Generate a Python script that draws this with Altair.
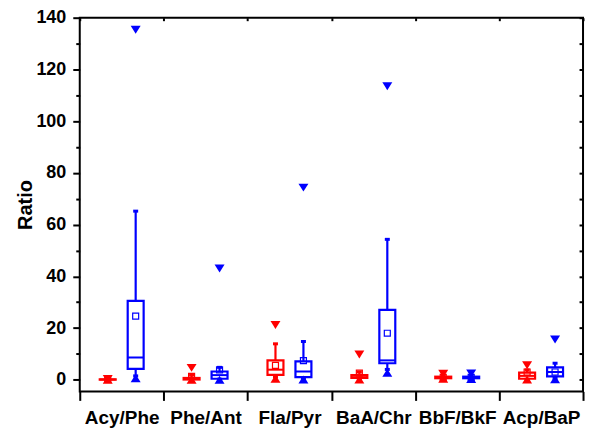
import altair as alt
import pandas as pd

categories = ["Acy/Phe", "Phe/Ant", "Fla/Pyr", "BaA/Chr", "BbF/BkF", "Acp/BaP"]
series_names = ["Red", "Blue"]
series_colors = ["#FF0000", "#0000FF"]

# Red series (one value per category)
red_max = [0.3, 4.6, 21.2, 9.8, 2.3, 5.6]
red_whi = [0.25, 1.8, 13.9, 3.0, 1.6, 3.8]
red_q3 = [0.2, 0.7, 7.5, 1.8, 1.2, 2.8]
red_mean = [0.15, 1.3, 5.6, 2.6, 0.9, 3.0]
red_median = [0.1, 0.3, 3.9, 1.0, 0.8, 1.5]
red_q1 = [0.05, 0.1, 1.9, 0.7, 0.6, 0.4]
red_wlo = [0.03, 0.05, 1.0, 0.4, 0.5, 0.2]
red_min = [0.0, 0.0, 0.4, 0.1, 0.4, 0.1]

# Blue series
blue_max = [135.3, 43.0, 74.3, 113.5, 2.4, 15.6]
blue_whi = [65.2, 4.8, 14.8, 54.3, 1.6, 6.4]
blue_q3 = [30.5, 3.2, 7.1, 27.0, 1.2, 4.8]
blue_mean = [24.6, 3.8, 7.4, 18.0, 0.9, 3.0]
blue_median = [8.6, 1.8, 3.2, 7.5, 0.8, 3.0]
blue_q1 = [4.2, 0.4, 1.0, 6.4, 0.6, 1.3]
blue_wlo = [1.5, 0.2, 0.5, 4.0, 0.5, 0.6]
blue_min = [0.6, 0.0, 0.1, 2.7, 0.3, 0.2]

y_ticks = list(range(0, 141, 10))

rows = []
for s, mx, whi, q3, mean, med, q1, wlo, mn in [
    ("Red", red_max, red_whi, red_q3, red_mean, red_median, red_q1, red_wlo, red_min),
    ("Blue", blue_max, blue_whi, blue_q3, blue_mean, blue_median, blue_q1, blue_wlo, blue_min),
]:
    for i, c in enumerate(categories):
        rows.append(dict(category=c, series=s, vmax=mx[i], whi=whi[i], q3=q3[i],
                         mean=mean[i], median=med[i], q1=q1[i], wlo=wlo[i], vmin=mn[i]))
df = pd.DataFrame(rows)

FONT = "Liberation Sans"
yscale = alt.Scale(domain=[-4.5, 140], nice=False, zero=False)
cscale = alt.Scale(domain=series_names, range=series_colors)

x_axis = alt.Axis(orient="bottom", tickBand="extent", tickSize=9, tickWidth=2, tickColor="black",
                  domain=False, labelFont=FONT, labelFontSize=19, labelFontWeight="bold",
                  labelColor="black", labelPadding=8, labelAngle=0, title=None)
y_axis = alt.Axis(orient="left", values=y_ticks, grid=False, domain=False,
                  tickSize={"condition": {"test": "datum.value % 20 === 0", "value": 7}, "value": 4},
                  tickWidth=2, tickColor="black",
                  labelExpr="datum.value % 20 === 0 ? datum.label : ''",
                  labelFont=FONT, labelFontSize=18, labelFontWeight="bold", labelColor="black",
                  labelPadding=7, title="Ratio", titleFont=FONT, titleFontSize=20,
                  titleFontWeight="bold", titleColor="black", titlePadding=0)

X = alt.X("category:N", sort=categories, scale=alt.Scale(paddingInner=0, paddingOuter=0), axis=x_axis)
XO = alt.XOffset("series:N", sort=series_names,
                 scale=alt.Scale(domain=series_names, paddingInner=0, paddingOuter=0.5))


def Y(field):
    return alt.Y(f"{field}:Q", scale=yscale, axis=y_axis, title="Ratio")


C = alt.Color("series:N", scale=cscale, legend=None)
S = alt.Stroke("series:N", scale=cscale, legend=None)

base = alt.Chart(df)

whisk_hi = base.mark_rule(strokeWidth=2.2).encode(x=X, xOffset=XO, y=Y("q3"), y2="whi", color=C)
whisk_lo = base.mark_rule(strokeWidth=2.2).encode(x=X, xOffset=XO, y=Y("wlo"), y2="q1", color=C)
box = base.mark_bar(size=16, fill="white", strokeWidth=2.2).encode(
    x=X, xOffset=XO, y=Y("q1"), y2="q3", stroke=S)
median = base.mark_tick(size=16, thickness=2, opacity=1).encode(x=X, xOffset=XO, y=Y("median"), color=C)
mean = base.mark_point(shape="square", filled=False, size=36, strokeWidth=1.2, opacity=1).encode(
    x=X, xOffset=XO, y=Y("mean"), color=C)
cap_hi = base.mark_tick(size=5, thickness=3, opacity=1).encode(x=X, xOffset=XO, y=Y("whi"), color=C)
cap_lo = base.mark_tick(size=5, thickness=3, opacity=1).encode(x=X, xOffset=XO, y=Y("wlo"), color=C)
tri_down = "M-1,-0.8L1,-0.8L0,0.8Z"
tri_up = "M-1,0.8L1,0.8L0,-0.8Z"
mx = base.mark_point(shape=tri_down, filled=True, size=100, opacity=1, strokeWidth=0).encode(
    x=X, xOffset=XO, y=Y("vmax"), color=C)
mn = base.mark_point(shape=tri_up, filled=True, size=100, opacity=1, strokeWidth=0).encode(
    x=X, xOffset=XO, y=Y("vmin"), color=C)

main = alt.layer(whisk_hi, whisk_lo, box, median, mean, cap_hi, cap_lo, mx, mn)

top_axis = alt.Axis(orient="top", tickBand="extent", tickSize=3, tickWidth=2, tickColor="black",
                    domain=False, labels=False, title=None, offset=-3)
right_axis = alt.Axis(orient="right", values=y_ticks, tickSize=4, tickWidth=2, tickColor="black",
                      domain=False, labels=False, title=None, offset=-4, grid=False)
frame = base.mark_point(opacity=0).encode(
    x=alt.X("category:N", sort=categories, scale=alt.Scale(paddingInner=0, paddingOuter=0), axis=top_axis),
    y=alt.Y("vmax:Q", scale=yscale, axis=right_axis),
)

chart = alt.layer(main, frame).resolve_axis(x="independent", y="independent").properties(
    width=505, height=375,
    autosize=alt.AutoSizeParams(type="none"),
    padding={"left": 72, "top": 9, "right": 8, "bottom": 40},
).configure(background="white").configure_view(stroke="black", strokeWidth=2)

chart.save("out.html", embed_options={"renderer": "svg", "actions": False})
